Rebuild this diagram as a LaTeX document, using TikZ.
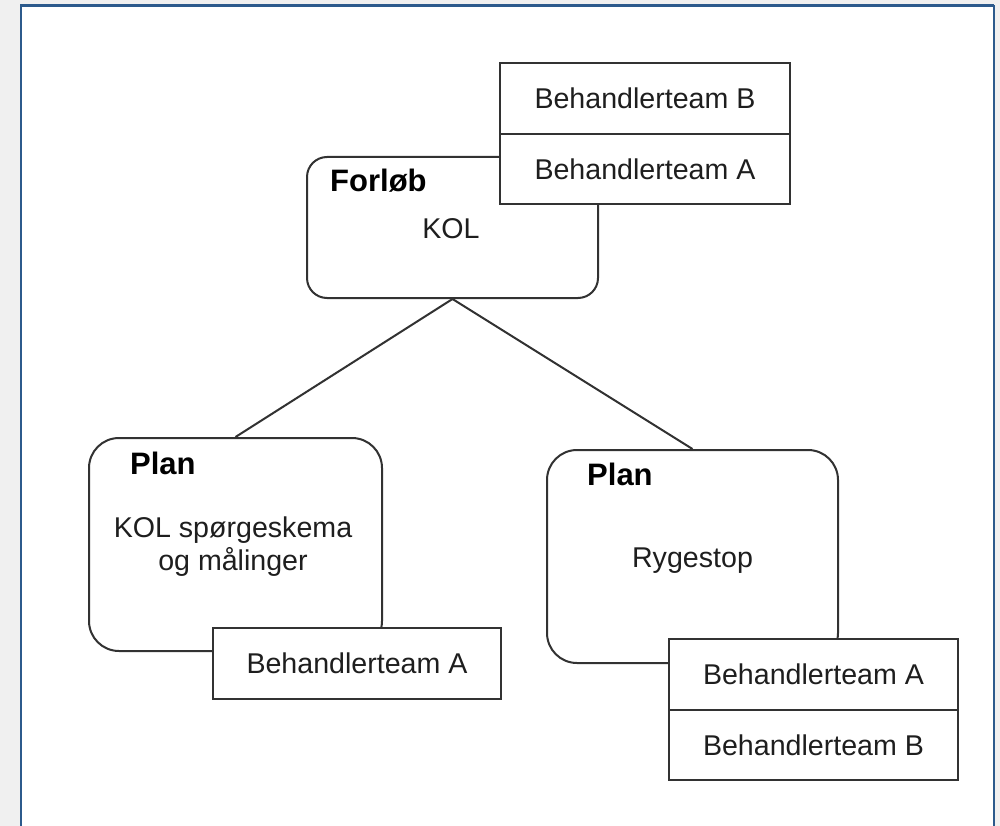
\documentclass[tikz,border=0pt]{standalone}
\usepackage{fontspec}
\setmainfont{Liberation Sans}
\definecolor{pagegray}{RGB}{240,240,240}
\definecolor{frameblue}{RGB}{44,90,140}
\definecolor{linegray}{RGB}{50,50,50}
\definecolor{textdark}{RGB}{30,30,30}
\begin{document}
\begin{tikzpicture}[x=1pt,y=-1pt,
  outline/.style={draw=linegray, line width=2pt, fill=white, inner sep=0pt, text=textdark,
    font=\fontsize{28.6}{33}\selectfont},
  roundbox/.style={outline, rounded corners=#1},
  cell/.style={outline, minimum width=290pt, minimum height=70.5pt},
  title/.style={anchor=base west, inner sep=0pt, text=black, font=\bfseries\fontsize{31}{36}\selectfont},
  body/.style={anchor=base, inner sep=0pt, text=textdark, align=center, font=\fontsize{28.6}{33}\selectfont},
  link/.style={draw=linegray, line width=2pt}
]
\useasboundingbox (0,0) rectangle (1000,826);
% page background and framed panel
\fill[pagegray] (0,0) rectangle (1000,826);
\fill[white] (21,5.5) rectangle (994,826);
\draw[frameblue, line width=2.5pt] (21,826) -- (21,5.5) -- (994,5.5);
\draw[frameblue, line width=1.6pt] (994,5.5) -- (994,826);

% course node
\node[roundbox=20pt, minimum width=291pt, minimum height=141pt] (forlob) at (452.5,227.5) {};
\node[title] (forlobtitle) at (330,192) {Forløb};
\node[body] (kol) at (451,238) {KOL};

% teams attached to the course
\node[cell] (topB) at (645,98.5) {Behandlerteam B};
\node[cell] (topA) at (645,169) {Behandlerteam A};

% left plan
\node[roundbox=30pt, minimum width=293pt, minimum height=213pt] (plan1) at (235.5,544.5) {};
\node[title] (plan1title) at (130,474) {Plan};
\node[body] (plan1body) at (233,570) {KOL spørgeskema\\og målinger};
\node[cell, minimum width=288pt, minimum height=71pt] (leftA) at (357,663.5) {Behandlerteam A};

% right plan
\node[roundbox=30pt, minimum width=291pt, minimum height=213pt] (plan2) at (692.5,556.5) {};
\node[title] (plan2title) at (587,485) {Plan};
\node[body] (plan2body) at (692.5,567) {Rygestop};
\node[cell, minimum width=289pt] (rightA) at (813.5,674.5) {Behandlerteam A};
\node[cell, minimum width=289pt] (rightB) at (813.5,745) {Behandlerteam B};

% tree connectors
\draw[link] (forlob.south) -- (plan1.north);
\draw[link] (forlob.south) -- (plan2.north);
\end{tikzpicture}
\end{document}
